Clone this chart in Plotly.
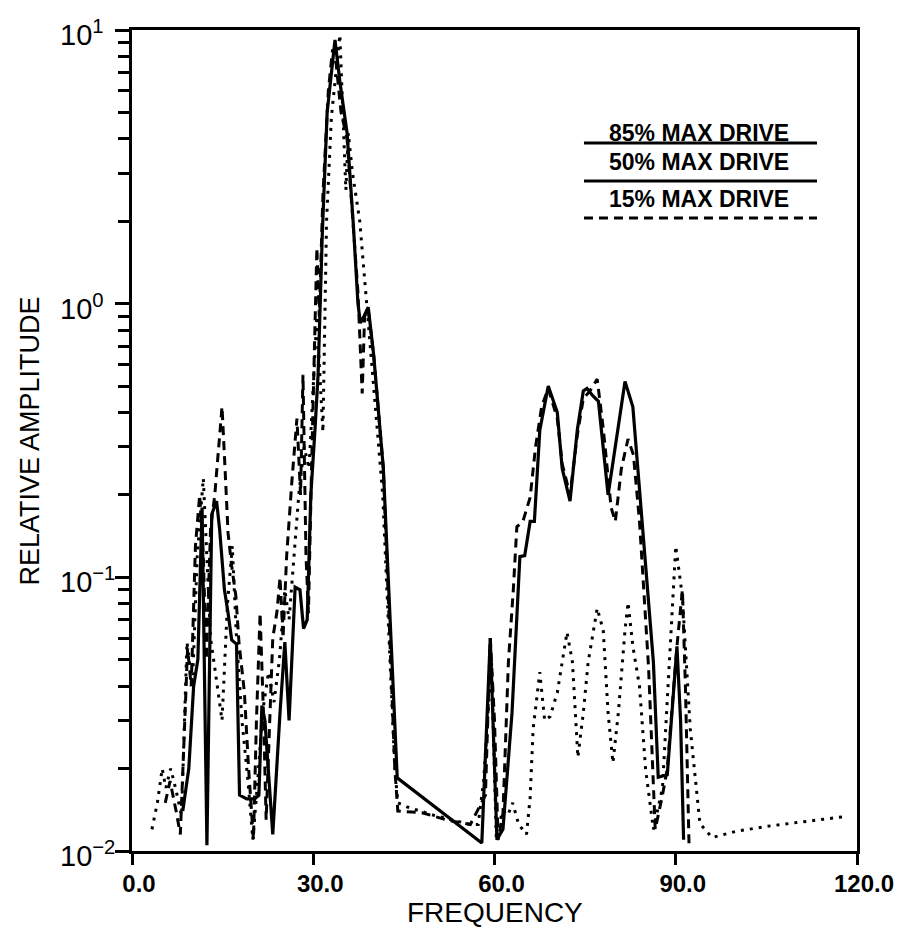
import plotly.graph_objects as go

# 85% MAX DRIVE (solid)
f85 = [8.4, 9.4, 10.2, 10.9, 11.6, 12.4, 13.2, 14.0, 14.5, 15.3, 15.9, 16.5, 17.3, 17.8, 19.0,
       20.3, 21.0, 21.5, 22.0, 23.3, 24.5, 25.3, 26.0, 27.0, 27.8, 28.4, 29.0, 29.6, 30.3,
       30.8, 31.5, 32.3, 33.6, 34.4, 35.6, 36.6, 37.4, 37.8, 38.4, 39.1, 40.0, 41.6, 43.9,
       57.9, 59.3, 60.4, 61.4, 62.9, 64.2, 65.0, 65.9, 66.6, 67.5, 68.9, 70.4, 71.2, 72.5,
       73.7, 74.7, 75.3, 76.3, 77.2, 78.8, 79.6, 81.6, 82.9, 84.4, 86.3, 87.1, 88.6, 90.2,
       90.8, 91.3]
a85 = [0.014, 0.02, 0.04, 0.05, 0.18, 0.0105, 0.17, 0.19, 0.15, 0.09, 0.074, 0.059, 0.057,
       0.016, 0.0155, 0.0155, 0.016, 0.034, 0.03, 0.0115, 0.032, 0.058, 0.03, 0.092, 0.09,
       0.065, 0.07, 0.2, 0.35, 0.55, 1.8, 5.0, 9.2, 6.5, 4.2, 2.0, 1.0, 0.85, 0.9, 0.97,
       0.65, 0.25, 0.0185, 0.0107, 0.06, 0.011, 0.012, 0.032, 0.119, 0.12, 0.16, 0.16,
       0.345, 0.50, 0.40, 0.25, 0.19, 0.345, 0.48, 0.49, 0.46, 0.44, 0.20, 0.26, 0.52,
       0.42, 0.166, 0.049, 0.0186, 0.019, 0.056, 0.03, 0.011]

# 50% MAX DRIVE (dotted)
f50 = [3.3, 4.2, 5.0, 5.6, 6.4, 7.2, 8.2, 9.1, 10.0, 10.8, 11.8, 12.4, 13.0, 13.8, 14.9,
       15.8, 16.6, 17.3, 18.2, 19.2, 20.0, 20.8, 21.6, 22.6, 23.5, 24.4, 25.3, 26.0, 26.8,
       27.6, 28.5, 29.3, 30.0, 30.6, 31.0, 31.6, 32.2, 33.0, 34.4, 35.0, 35.4, 35.8, 36.5,
       37.7, 38.6, 39.5, 41.5, 43.5, 44.0, 45.5, 50.0, 56.0, 57.3, 58.2, 59.0, 59.5, 60.3,
       61.3, 62.2, 63.0, 64.0, 65.3, 65.9, 66.4, 67.5, 68.3, 69.2, 70.4, 72.0, 72.9, 73.8,
       74.7, 75.5, 77.0, 78.0, 78.8, 79.6, 80.5, 81.6, 82.1, 82.9, 84.0, 85.0, 86.3, 87.8,
       89.0, 90.0, 91.1, 92.4, 94.0, 96.0, 100.0, 105.0, 110.0, 115.0, 118.5]
a50 = [0.012, 0.015, 0.020, 0.017, 0.020, 0.017, 0.0135, 0.058, 0.040, 0.12, 0.23, 0.12,
       0.06, 0.045, 0.030, 0.08, 0.13, 0.06, 0.03, 0.018, 0.011, 0.018, 0.032, 0.045, 0.035,
       0.05, 0.09, 0.07, 0.12, 0.20, 0.30, 0.25, 0.5, 0.9, 0.6, 0.34, 2.0, 4.8, 9.6, 4.3,
       2.6, 4.2, 3.0, 2.0, 1.15, 0.7, 0.2, 0.02, 0.015, 0.0145, 0.0135, 0.0125, 0.0125,
       0.018, 0.035, 0.05, 0.011, 0.014, 0.0135, 0.015, 0.0125, 0.0115, 0.0157, 0.028,
       0.045, 0.030, 0.031, 0.038, 0.063, 0.049, 0.022, 0.032, 0.049, 0.077, 0.064, 0.032,
       0.021, 0.032, 0.064, 0.081, 0.056, 0.04, 0.02, 0.012, 0.017, 0.049, 0.13, 0.085,
       0.028, 0.0126, 0.0112, 0.0118, 0.0123, 0.0127, 0.0131, 0.0134]

# 15% MAX DRIVE (dashed)
f15 = [5.5, 6.3, 7.3, 8.0, 8.6, 9.2, 9.8, 10.5, 11.2, 11.8, 12.3, 13.0, 13.7, 14.4, 14.9,
       15.4, 15.9, 16.5, 17.2, 17.7, 18.6, 19.3, 20.1, 20.6, 21.2, 21.8, 22.2, 22.8, 23.3,
       24.0, 24.5, 25.0, 25.6, 26.5, 27.3, 27.9, 28.3, 28.8, 29.2, 29.8, 30.3, 30.6, 31.0,
       31.6, 32.5, 33.2, 33.8, 34.6, 35.6, 36.5, 37.4, 38.1, 38.5, 39.1, 40.0, 41.6, 43.5,
       44.0, 48.0, 52.0, 56.0, 58.5, 59.3, 60.0, 60.6, 61.4, 62.3, 63.1, 63.7, 64.7, 65.9,
       66.8, 67.8, 68.9, 70.4, 71.2, 72.5, 73.7, 74.7, 75.8, 77.0, 78.0, 79.3, 80.0, 81.0,
       82.1, 83.0, 84.0, 85.5, 86.6, 87.8, 88.6, 90.2, 91.1, 91.6, 92.2]
a15 = [0.015, 0.018, 0.014, 0.0115, 0.025, 0.055, 0.04, 0.13, 0.2, 0.12, 0.05, 0.15, 0.2,
       0.3, 0.42, 0.25, 0.145, 0.11, 0.085, 0.058, 0.038, 0.02, 0.011, 0.03, 0.074, 0.03,
       0.013, 0.03, 0.06, 0.075, 0.1, 0.06, 0.12, 0.23, 0.38, 0.2, 0.55, 0.12, 0.074, 0.3,
       0.9, 1.6, 0.9, 2.5, 6.0, 8.5, 7.5, 5.0, 4.0, 2.0, 1.1, 0.47, 0.9, 0.95, 0.65, 0.25,
       0.02, 0.014, 0.0138, 0.013, 0.0125, 0.016, 0.06, 0.03, 0.011, 0.0137, 0.049, 0.089,
       0.153, 0.16, 0.196, 0.3, 0.42, 0.49, 0.38, 0.26, 0.2, 0.33, 0.45, 0.48, 0.53, 0.35,
       0.18, 0.16, 0.25, 0.32, 0.28, 0.16, 0.047, 0.012, 0.016, 0.02, 0.056, 0.09, 0.04,
       0.0105]

x_ticks = [0, 30, 60, 90, 120]
x_ticktext = ["0.0", "30.0", "60.0", "90.0", "120.0"]
y_ticks = [0.01, 0.1, 1, 10]
y_exponents = [-2, -1, 0, 1]
y_ticktext = ["10<sup>\u22122</sup>", "10<sup>\u22121</sup>", "10<sup>0</sup>", "10<sup>1</sup>"]
legend_labels = ["85% MAX DRIVE", "50% MAX DRIVE", "15% MAX DRIVE"]
x_title = "FREQUENCY"
y_title = "RELATIVE AMPLITUDE"

FONT = "Liberation Sans, Arial, sans-serif"
INK = "#000000"

fig = go.Figure()
fig.add_trace(go.Scatter(x=f85, y=a85, mode="lines", name=legend_labels[0],
                         line=dict(color=INK, width=3.2)))
fig.add_trace(go.Scatter(x=f50, y=a50, mode="lines", name=legend_labels[1],
                         line=dict(color=INK, width=3, dash="3px,6px")))
fig.add_trace(go.Scatter(x=f15, y=a15, mode="lines", name=legend_labels[2],
                         line=dict(color=INK, width=3, dash="9px,6px")))

minor_vals = [m * 10 ** e for e in (-2, -1, 0) for m in range(2, 10)]

fig.update_layout(
    width=899, height=931,
    margin=dict(l=132, r=42, t=30, b=80),
    paper_bgcolor="white", plot_bgcolor="white",
    showlegend=False,
    font=dict(family=FONT, color=INK),
    xaxis=dict(
        range=[0, 120], tickvals=x_ticks, ticktext=x_ticktext, automargin=False,
        ticks="outside", ticklen=11, tickwidth=3, tickcolor=INK,
        showline=True, linewidth=3, linecolor=INK, mirror=True,
        showgrid=False, zeroline=False, ticklabelshift=7, ticklabelstandoff=-2,
        tickfont=dict(family=FONT, size=24, color=INK, weight="bold"),
    ),
    yaxis=dict(
        type="log", range=[-2, 1], tickvals=y_ticks, showticklabels=False, automargin=False,
        ticks="outside", ticklen=14, tickwidth=3, tickcolor=INK,
        minor=dict(tickvals=minor_vals, ticks="outside", ticklen=11, tickwidth=2.5,
                   tickcolor=INK, showgrid=False),
        showline=True, linewidth=3, linecolor=INK, mirror=True,
        showgrid=False, zeroline=False,
    ),
)

# Y tick labels (left-aligned powers of ten, like the original)
for ex, txt in zip(y_exponents, y_ticktext):
    fig.add_annotation(xref="paper", yref="y", x=-0.102, y=ex, text=txt, showarrow=False,
                       xanchor="left", yanchor="middle", yshift=-3,
                       font=dict(family=FONT, size=29, color=INK))

# Axis titles
fig.add_annotation(xref="paper", yref="paper", x=0.5, y=-0.0743, text=x_title, showarrow=False,
                   xanchor="center", yanchor="middle", font=dict(family=FONT, size=28, color=INK))
fig.add_annotation(xref="paper", yref="paper", x=-0.1407, y=0.5, text=y_title, showarrow=False,
                   textangle=-90, xanchor="center", yanchor="middle",
                   font=dict(family=FONT, size=27, color=INK))

# Legend block (text with line styles underneath), in paper coordinates
text_y = [0.8746, 0.839, 0.794]
line_y = [0.8624, 0.816, 0.771]
line_dash = ["solid", "solid", "9px,6px"]
for lbl, ty in zip(legend_labels, text_y):
    fig.add_annotation(xref="paper", yref="paper", x=0.782, y=ty, text=lbl, showarrow=False,
                       xanchor="center", yanchor="middle",
                       font=dict(family=FONT, size=23, color=INK, weight="bold"))
for ly, dsh in zip(line_y, line_dash):
    fig.add_shape(type="line", xref="paper", yref="paper", x0=0.6234, x1=0.9448, y0=ly, y1=ly,
                  line=dict(color=INK, width=3, dash=dsh))

fig.write_html("out.html", config={"displayModeBar": False},
               post_script="document.body.style.margin='0px';")
